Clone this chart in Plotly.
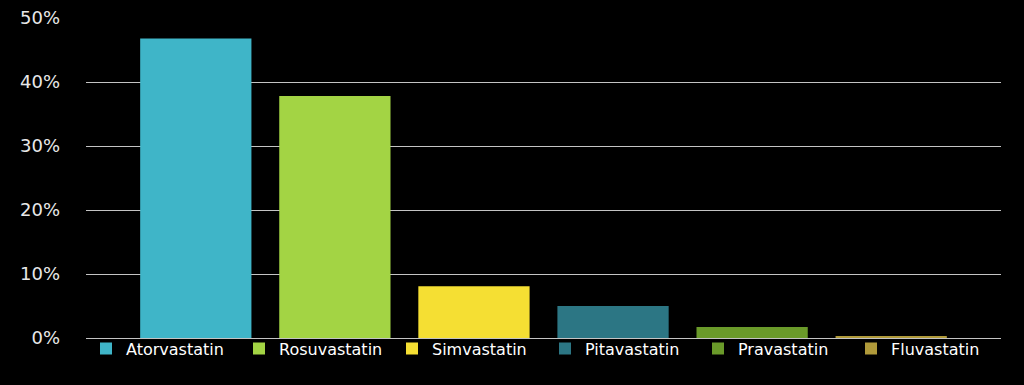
import plotly.graph_objects as go

drugs = ["Atorvastatin", "Rosuvastatin", "Simvastatin", "Pitavastatin", "Pravastatin", "Fluvastatin"]
shares = [46.8, 37.8, 8.1, 5.0, 1.7, 0.2]
colors = ["#3fb5c8", "#a3d444", "#f5df33", "#2c7684", "#6a9a2a", "#b09a3a"]
category = [""]

fig = go.Figure()
for name, val, col in zip(drugs, shares, colors):
    fig.add_trace(go.Bar(x=category, y=[val], name=name, marker=dict(color=col, line=dict(width=0))))

fig.update_layout(
    width=1024, height=385,
    paper_bgcolor="black", plot_bgcolor="black",
    margin=dict(l=86, r=23, t=18, b=47, autoexpand=False),
    barmode="group", bargap=0.088, bargroupgap=0.2,
    font=dict(family="DejaVu Sans", color="white"),
    showlegend=True,
    legend=dict(orientation="h", x=0.0, xanchor="left", y=0.02, yanchor="top",
                font=dict(size=16, color="white"), bgcolor="rgba(0,0,0,0)",
                itemwidth=30, entrywidth=108, traceorder="normal", tracegroupgap=0),
    xaxis=dict(showticklabels=False, showgrid=False, zeroline=False, showline=False),
    yaxis=dict(range=[0, 50], dtick=10, ticksuffix="%", showgrid=True, gridcolor="#c4c4c4",
               gridwidth=1, zeroline=True, zerolinecolor="#c4c4c4", zerolinewidth=1,
               automargin=False,
               tickfont=dict(size=18, color="#e8e8e8"), ticklabelstandoff=25, showline=False),
)

fig.write_html("out.html", config={"displayModeBar": False},
               post_script="document.body.style.margin='0';document.body.style.background='black';")
